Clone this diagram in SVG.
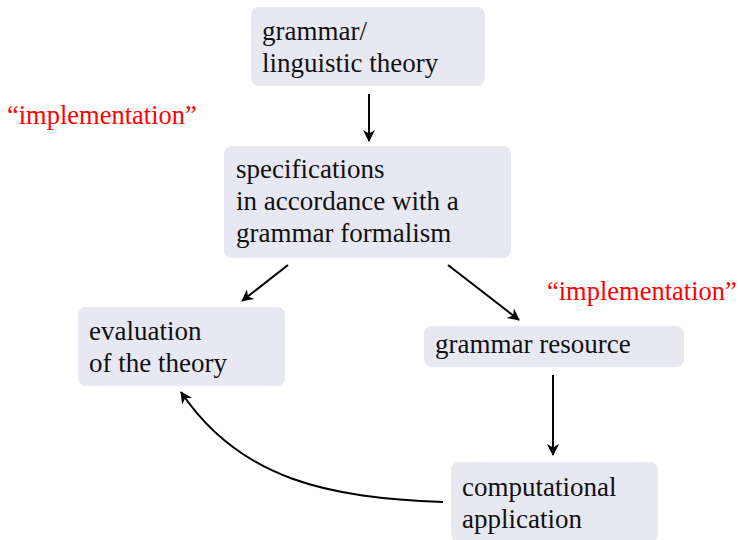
<svg xmlns="http://www.w3.org/2000/svg" width="739" height="540" viewBox="0 0 739 540">
<defs>
<style>
.c{fill:none;stroke:#000;stroke-width:2}
</style>
<marker id="ah" viewBox="0 0 13 13" refX="11" refY="6.5" markerWidth="13" markerHeight="13" markerUnits="userSpaceOnUse" orient="auto">
<path d="M0,0.5 L12,6.5 L0,12.5 L3.5,6.5 Z" fill="#000"/>
</marker>
</defs>
<rect width="739" height="540" fill="#fff"/>
<g font-family="Liberation Serif, serif" font-size="27" fill="#111">
<g id="n1"><rect fill="#e8e8f3" x="251" y="7" width="234" height="79" rx="8"/><text x="262" y="40">grammar/</text><text x="262" y="72">linguistic theory</text></g>
<g id="n2"><rect fill="#e8e8f3" x="224" y="146" width="287" height="112" rx="8"/><text x="236" y="178">specifications</text><text x="236" y="210">in accordance with a</text><text x="236" y="242">grammar formalism</text></g>
<g id="n3"><rect fill="#e8e8f3" x="78" y="307" width="207" height="79" rx="8"/><text x="89" y="340">evaluation</text><text x="89" y="372">of the theory</text></g>
<g id="n4"><rect fill="#e8e8f3" x="424" y="326" width="260" height="41" rx="8"/><text x="435" y="353">grammar resource</text></g>
<g id="n5"><rect fill="#e8e8f3" x="451" y="462" width="207" height="80" rx="8"/><text x="462" y="496">computational</text><text x="462" y="528">application</text></g>
<g id="labels" fill="#ff0000" font-size="26.5"><text x="7" y="124">“implementation”</text><text x="547" y="300">“implementation”</text></g>
</g>
<g id="connectors">
<path class="c" d="M369,94 L369,141" marker-end="url(#ah)"/>
<path class="c" d="M288,265 L242,301" marker-end="url(#ah)"/>
<path class="c" d="M448,265 L519,320" marker-end="url(#ah)"/>
<path class="c" d="M553,375 L553,455" marker-end="url(#ah)"/>
<path class="c" d="M443,502 C330,498 240,480 181,392" marker-end="url(#ah)"/>
</g>
</svg>
